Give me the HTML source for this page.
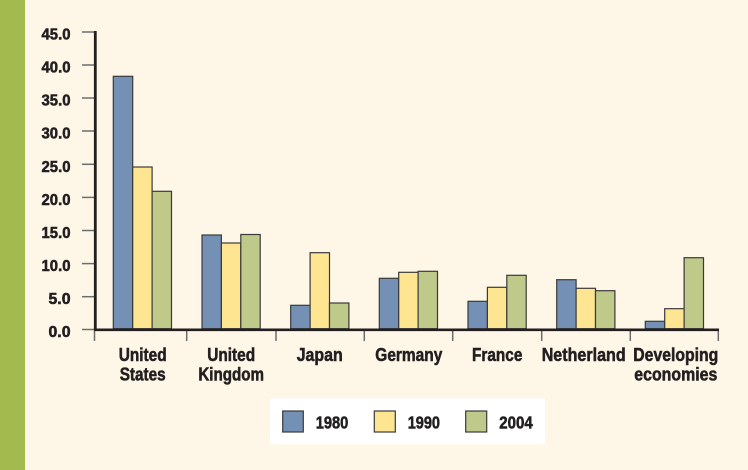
<!DOCTYPE html>
<html><head><meta charset="utf-8"><style>
html,body{margin:0;padding:0;background:#fef6e6;}
svg{display:block;}
text{font-family:"Liberation Sans Narrow","Liberation Sans",sans-serif;font-weight:bold;fill:#231f20;stroke:#231f20;stroke-width:0.55px;}
</style></head><body>
<svg width="748" height="470" viewBox="0 0 748 470" xmlns="http://www.w3.org/2000/svg">
<rect x="0" y="0" width="748" height="470" fill="#fef6e6"/>
<rect x="0" y="0" width="25" height="470" fill="#a3bb4e"/>

<!-- y ticks -->
<g stroke="#6d6d6d" stroke-width="1.5">
<line x1="82" y1="32" x2="95" y2="32"/>
<line x1="82" y1="65" x2="95" y2="65"/>
<line x1="82" y1="98" x2="95" y2="98"/>
<line x1="82" y1="131" x2="95" y2="131"/>
<line x1="82" y1="164.3" x2="95" y2="164.3"/>
<line x1="82" y1="197.4" x2="95" y2="197.4"/>
<line x1="82" y1="230.5" x2="95" y2="230.5"/>
<line x1="82" y1="263.6" x2="95" y2="263.6"/>
<line x1="82" y1="296.7" x2="95" y2="296.7"/>
<line x1="82" y1="329.5" x2="95" y2="329.5"/>
</g>
<!-- x ticks -->
<g stroke="#6d6d6d" stroke-width="1.5">
<line x1="94.5" y1="331" x2="94.5" y2="341"/>
<line x1="186.7" y1="331" x2="186.7" y2="341"/>
<line x1="276" y1="331" x2="276" y2="341"/>
<line x1="364.3" y1="331" x2="364.3" y2="341"/>
<line x1="452.7" y1="331" x2="452.7" y2="341"/>
<line x1="541.7" y1="331" x2="541.7" y2="341"/>
<line x1="630.3" y1="331" x2="630.3" y2="341"/>
<line x1="718.3" y1="331" x2="718.3" y2="341"/>
</g>

<!-- y labels -->
<g font-size="15.5" text-anchor="end">
<text x="70.5" y="39.5" textLength="29" lengthAdjust="spacingAndGlyphs">45.0</text>
<text x="70.5" y="72.5" textLength="29" lengthAdjust="spacingAndGlyphs">40.0</text>
<text x="70.5" y="105.5" textLength="29" lengthAdjust="spacingAndGlyphs">35.0</text>
<text x="70.5" y="138.6" textLength="29" lengthAdjust="spacingAndGlyphs">30.0</text>
<text x="70.5" y="171.8" textLength="29" lengthAdjust="spacingAndGlyphs">25.0</text>
<text x="70.5" y="204.9" textLength="29" lengthAdjust="spacingAndGlyphs">20.0</text>
<text x="70.5" y="238" textLength="29" lengthAdjust="spacingAndGlyphs">15.0</text>
<text x="70.5" y="271.1" textLength="29" lengthAdjust="spacingAndGlyphs">10.0</text>
<text x="70.5" y="304.2" textLength="22" lengthAdjust="spacingAndGlyphs">5.0</text>
<text x="70.5" y="337" textLength="22" lengthAdjust="spacingAndGlyphs">0.0</text>
</g>

<!-- bars -->
<g stroke="#3a3a3a" stroke-width="1.2">
<rect x="113.3" y="76.3" width="19.4" height="252.4" fill="#7590b5"/>
<rect x="132.7" y="167" width="19.4" height="161.7" fill="#fee591"/>
<rect x="152.1" y="191.3" width="19.4" height="137.4" fill="#bfc98a"/>
<rect x="202" y="235" width="19.4" height="93.7" fill="#7590b5"/>
<rect x="221.4" y="243" width="19.4" height="85.7" fill="#fee591"/>
<rect x="240.8" y="234.5" width="19.4" height="94.2" fill="#bfc98a"/>
<rect x="290.7" y="305.3" width="19.4" height="23.4" fill="#7590b5"/>
<rect x="310.1" y="252.7" width="19.4" height="76" fill="#fee591"/>
<rect x="329.5" y="303" width="19.4" height="25.7" fill="#bfc98a"/>
<rect x="379.3" y="278.3" width="19.4" height="50.4" fill="#7590b5"/>
<rect x="398.7" y="272.3" width="19.4" height="56.4" fill="#fee591"/>
<rect x="418.1" y="271.3" width="19.4" height="57.4" fill="#bfc98a"/>
<rect x="468" y="301.3" width="19.4" height="27.4" fill="#7590b5"/>
<rect x="487.4" y="287.3" width="19.4" height="41.4" fill="#fee591"/>
<rect x="506.8" y="275.3" width="19.4" height="53.4" fill="#bfc98a"/>
<rect x="556.7" y="279.7" width="19.4" height="49" fill="#7590b5"/>
<rect x="576.1" y="288.3" width="19.4" height="40.4" fill="#fee591"/>
<rect x="595.5" y="290.7" width="19.4" height="38" fill="#bfc98a"/>
<rect x="645.3" y="321.3" width="19.4" height="7.4" fill="#7590b5"/>
<rect x="664.7" y="308.7" width="19.4" height="20" fill="#fee591"/>
<rect x="684.1" y="257.7" width="19.4" height="71" fill="#bfc98a"/>
</g>

<!-- axes -->
<line x1="95.3" y1="31" x2="95.3" y2="331" stroke="#231f20" stroke-width="2.8"/>
<line x1="94" y1="329.8" x2="719" y2="329.8" stroke="#231f20" stroke-width="2.6"/>

<!-- x labels -->
<g font-size="18.5" text-anchor="middle">
<text x="142.7" y="361" textLength="48" lengthAdjust="spacingAndGlyphs">United</text>
<text x="142.7" y="380.7" textLength="46" lengthAdjust="spacingAndGlyphs">States</text>
<text x="231.2" y="361" textLength="48" lengthAdjust="spacingAndGlyphs">United</text>
<text x="231.2" y="380.7" textLength="65.7" lengthAdjust="spacingAndGlyphs">Kingdom</text>
<text x="319.7" y="361" textLength="46" lengthAdjust="spacingAndGlyphs">Japan</text>
<text x="408.8" y="361" textLength="67" lengthAdjust="spacingAndGlyphs">Germany</text>
<text x="497.2" y="361" textLength="50.3" lengthAdjust="spacingAndGlyphs">France</text>
<text x="583.7" y="361" textLength="84" lengthAdjust="spacingAndGlyphs">Netherland</text>
<text x="675.8" y="361" textLength="85" lengthAdjust="spacingAndGlyphs">Developing</text>
<text x="675.8" y="380.7" textLength="83" lengthAdjust="spacingAndGlyphs">economies</text>
</g>

<!-- legend -->
<rect x="270" y="398.3" width="275" height="46" fill="#ffffff"/>
<g stroke="#3a3a3a" stroke-width="1.2">
<rect x="282.7" y="411" width="20.6" height="21" fill="#7590b5"/>
<rect x="374.3" y="411" width="21" height="21" fill="#fee591"/>
<rect x="465.7" y="411" width="21" height="21" fill="#bfc98a"/>
</g>
<g font-size="17.5">
<text x="315.7" y="428.3" textLength="32.6" lengthAdjust="spacingAndGlyphs">1980</text>
<text x="407.7" y="428.3" textLength="32.3" lengthAdjust="spacingAndGlyphs">1990</text>
<text x="499.3" y="428.3" textLength="33.4" lengthAdjust="spacingAndGlyphs">2004</text>
</g>
</svg>
</body></html>
